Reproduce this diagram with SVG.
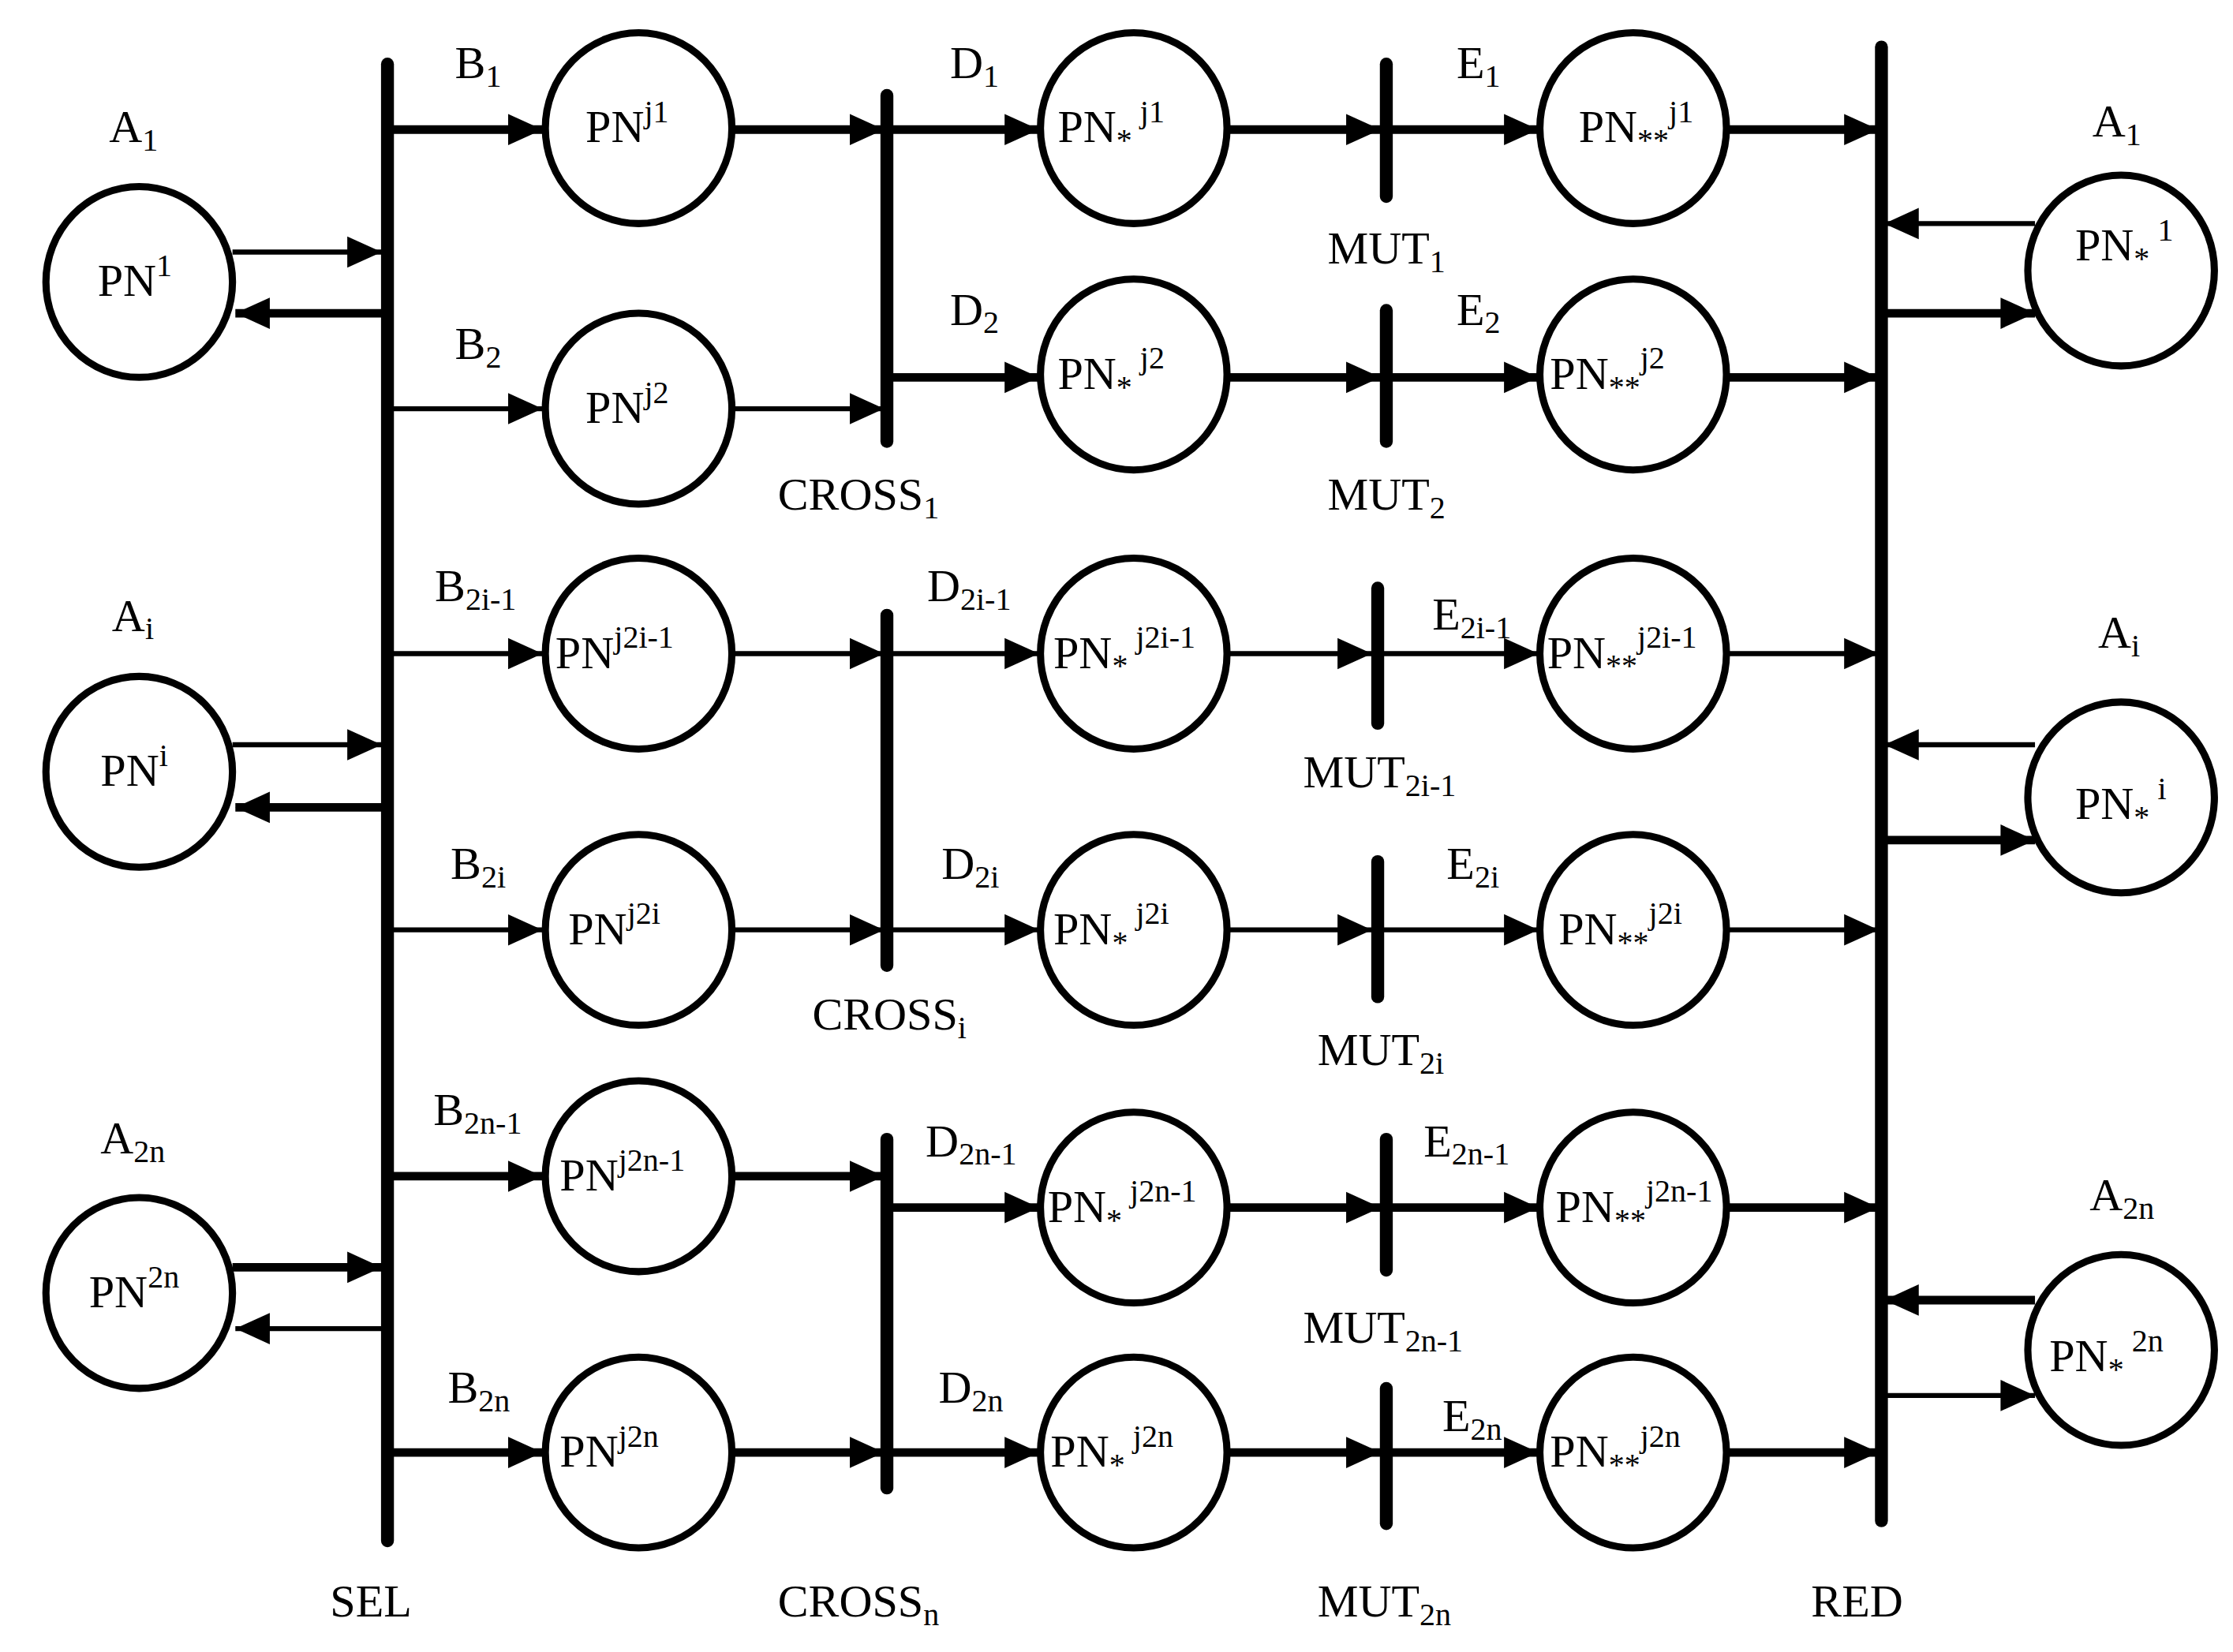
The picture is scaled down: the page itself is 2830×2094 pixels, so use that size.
<svg xmlns="http://www.w3.org/2000/svg" width="2830" height="2094" viewBox="0 0 2830 2094">
<style>
.c{fill:none;stroke:#000;stroke-width:5}
.bar{stroke:#000;stroke-width:9;stroke-linecap:round}
.t{stroke:#000;stroke-width:3.5;fill:none}
.k{stroke:#000;stroke-width:6;fill:none}
text{font-family:"Liberation Serif","Times New Roman",serif;font-size:32px;fill:#000}
.s{font-size:22px}
</style>
<defs>
<marker id="ah" markerUnits="userSpaceOnUse" markerWidth="26" markerHeight="26" viewBox="0 0 26 26" refX="24" refY="13" orient="auto"><path d="M0,2 L24,13 L0,24 Z" fill="#000"/></marker>
</defs>
<rect width="2830" height="2094" fill="#fff"/>
<g transform="scale(1.8188,1.805)">
<g id="bars">
<line class="bar" x1="270" y1="45" x2="270" y2="1082"/>
<line class="bar" x1="618" y1="67" x2="618" y2="310"/>
<line class="bar" x1="618" y1="432" x2="618" y2="678"/>
<line class="bar" x1="618" y1="800" x2="618" y2="1045"/>
<line class="bar" x1="966" y1="45" x2="966" y2="138"/>
<line class="bar" x1="966" y1="218" x2="966" y2="310"/>
<line class="bar" x1="960" y1="413" x2="960" y2="508"/>
<line class="bar" x1="960" y1="605" x2="960" y2="700"/>
<line class="bar" x1="966" y1="800" x2="966" y2="892"/>
<line class="bar" x1="966" y1="975" x2="966" y2="1070"/>
<line class="bar" x1="1311" y1="33" x2="1311" y2="1068"/>
</g>
<g id="connectors">
<line class="t" x1="162" y1="177" x2="266" y2="177" marker-end="url(#ah)"/>
<line class="k" x1="266" y1="220" x2="164" y2="220" marker-end="url(#ah)"/>
<line class="t" x1="162" y1="523" x2="266" y2="523" marker-end="url(#ah)"/>
<line class="k" x1="266" y1="567" x2="164" y2="567" marker-end="url(#ah)"/>
<line class="k" x1="162" y1="890" x2="266" y2="890" marker-end="url(#ah)"/>
<line class="t" x1="266" y1="933" x2="164" y2="933" marker-end="url(#ah)"/>
<line class="k" x1="272" y1="91" x2="378" y2="91" marker-end="url(#ah)"/>
<line class="t" x1="272" y1="287" x2="378" y2="287" marker-end="url(#ah)"/>
<line class="t" x1="272" y1="459" x2="378" y2="459" marker-end="url(#ah)"/>
<line class="t" x1="272" y1="653" x2="378" y2="653" marker-end="url(#ah)"/>
<line class="k" x1="272" y1="826" x2="378" y2="826" marker-end="url(#ah)"/>
<line class="k" x1="272" y1="1020" x2="378" y2="1020" marker-end="url(#ah)"/>
<line class="k" x1="510" y1="91" x2="616" y2="91" marker-end="url(#ah)"/>
<line class="t" x1="510" y1="287" x2="616" y2="287" marker-end="url(#ah)"/>
<line class="t" x1="510" y1="459" x2="616" y2="459" marker-end="url(#ah)"/>
<line class="t" x1="510" y1="653" x2="616" y2="653" marker-end="url(#ah)"/>
<line class="k" x1="510" y1="826" x2="616" y2="826" marker-end="url(#ah)"/>
<line class="k" x1="510" y1="1020" x2="616" y2="1020" marker-end="url(#ah)"/>
<line class="k" x1="620" y1="91" x2="724" y2="91" marker-end="url(#ah)"/>
<line class="k" x1="620" y1="265" x2="724" y2="265" marker-end="url(#ah)"/>
<line class="t" x1="620" y1="459" x2="724" y2="459" marker-end="url(#ah)"/>
<line class="t" x1="620" y1="653" x2="724" y2="653" marker-end="url(#ah)"/>
<line class="k" x1="620" y1="848" x2="724" y2="848" marker-end="url(#ah)"/>
<line class="k" x1="620" y1="1020" x2="724" y2="1020" marker-end="url(#ah)"/>
<line class="k" x1="856" y1="91" x2="962" y2="91" marker-end="url(#ah)"/>
<line class="k" x1="856" y1="265" x2="962" y2="265" marker-end="url(#ah)"/>
<line class="t" x1="856" y1="459" x2="956" y2="459" marker-end="url(#ah)"/>
<line class="t" x1="856" y1="653" x2="956" y2="653" marker-end="url(#ah)"/>
<line class="k" x1="856" y1="848" x2="962" y2="848" marker-end="url(#ah)"/>
<line class="k" x1="856" y1="1020" x2="962" y2="1020" marker-end="url(#ah)"/>
<line class="k" x1="968" y1="91" x2="1072" y2="91" marker-end="url(#ah)"/>
<line class="k" x1="968" y1="265" x2="1072" y2="265" marker-end="url(#ah)"/>
<line class="t" x1="962" y1="459" x2="1072" y2="459" marker-end="url(#ah)"/>
<line class="t" x1="962" y1="653" x2="1072" y2="653" marker-end="url(#ah)"/>
<line class="k" x1="968" y1="848" x2="1072" y2="848" marker-end="url(#ah)"/>
<line class="k" x1="968" y1="1020" x2="1072" y2="1020" marker-end="url(#ah)"/>
<line class="k" x1="1204" y1="91" x2="1309" y2="91" marker-end="url(#ah)"/>
<line class="k" x1="1204" y1="265" x2="1309" y2="265" marker-end="url(#ah)"/>
<line class="t" x1="1204" y1="459" x2="1309" y2="459" marker-end="url(#ah)"/>
<line class="t" x1="1204" y1="653" x2="1309" y2="653" marker-end="url(#ah)"/>
<line class="k" x1="1204" y1="848" x2="1309" y2="848" marker-end="url(#ah)"/>
<line class="k" x1="1204" y1="1020" x2="1309" y2="1020" marker-end="url(#ah)"/>
<line class="t" x1="1418" y1="157" x2="1313" y2="157" marker-end="url(#ah)"/>
<line class="k" x1="1313" y1="220" x2="1418" y2="220" marker-end="url(#ah)"/>
<line class="t" x1="1418" y1="523" x2="1313" y2="523" marker-end="url(#ah)"/>
<line class="k" x1="1313" y1="590" x2="1418" y2="590" marker-end="url(#ah)"/>
<line class="k" x1="1418" y1="913" x2="1313" y2="913" marker-end="url(#ah)"/>
<line class="t" x1="1313" y1="980" x2="1418" y2="980" marker-end="url(#ah)"/>
</g>
<g id="pn1"><ellipse class="c" cx="97" cy="198" rx="65" ry="67"/><text x="68" y="208">PN<tspan class="s" dy="-14">1</tspan></text></g>
<g id="pni"><ellipse class="c" cx="97" cy="542" rx="65" ry="67"/><text x="70" y="552">PN<tspan class="s" dy="-14">i</tspan></text></g>
<g id="pn2n"><ellipse class="c" cx="97" cy="908" rx="65" ry="67"/><text x="62" y="918">PN<tspan class="s" dy="-14">2n</tspan></text></g>
<g id="pnj1"><ellipse class="c" cx="445" cy="90" rx="65" ry="67"/><text x="408" y="100">PN<tspan class="s" dy="-14">j1</tspan></text></g>
<g id="pnj2"><ellipse class="c" cx="445" cy="287" rx="65" ry="67"/><text x="408" y="297">PN<tspan class="s" dy="-14">j2</tspan></text></g>
<g id="pnj2i1"><ellipse class="c" cx="445" cy="459" rx="65" ry="67"/><text x="387" y="469">PN<tspan class="s" dy="-14">j2i-1</tspan></text></g>
<g id="pnj2i"><ellipse class="c" cx="445" cy="653" rx="65" ry="67"/><text x="396" y="663">PN<tspan class="s" dy="-14">j2i</tspan></text></g>
<g id="pnj2n1"><ellipse class="c" cx="445" cy="826" rx="65" ry="67"/><text x="390" y="836">PN<tspan class="s" dy="-14">j2n-1</tspan></text></g>
<g id="pnj2n"><ellipse class="c" cx="445" cy="1020" rx="65" ry="67"/><text x="390" y="1030">PN<tspan class="s" dy="-14">j2n</tspan></text></g>
<g id="pns1"><ellipse class="c" cx="790" cy="90" rx="65" ry="67"/><text x="737" y="100">PN<tspan class="s" dy="6">*</tspan><tspan class="s" dy="-20"> j1</tspan></text></g>
<g id="pns2"><ellipse class="c" cx="790" cy="263" rx="65" ry="67"/><text x="737" y="273">PN<tspan class="s" dy="6">*</tspan><tspan class="s" dy="-20"> j2</tspan></text></g>
<g id="pns3"><ellipse class="c" cx="790" cy="459" rx="65" ry="67"/><text x="734" y="469">PN<tspan class="s" dy="6">*</tspan><tspan class="s" dy="-20"> j2i-1</tspan></text></g>
<g id="pns4"><ellipse class="c" cx="790" cy="653" rx="65" ry="67"/><text x="734" y="663">PN<tspan class="s" dy="6">*</tspan><tspan class="s" dy="-20"> j2i</tspan></text></g>
<g id="pns5"><ellipse class="c" cx="790" cy="848" rx="65" ry="67"/><text x="730" y="858">PN<tspan class="s" dy="6">*</tspan><tspan class="s" dy="-20"> j2n-1</tspan></text></g>
<g id="pns6"><ellipse class="c" cx="790" cy="1020" rx="65" ry="67"/><text x="732" y="1030">PN<tspan class="s" dy="6">*</tspan><tspan class="s" dy="-20"> j2n</tspan></text></g>
<g id="pnss1"><ellipse class="c" cx="1138" cy="90" rx="65" ry="67"/><text x="1100" y="100">PN<tspan class="s" dy="6">**</tspan><tspan class="s" dy="-20">j1</tspan></text></g>
<g id="pnss2"><ellipse class="c" cx="1138" cy="263" rx="65" ry="67"/><text x="1080" y="273">PN<tspan class="s" dy="6">**</tspan><tspan class="s" dy="-20">j2</tspan></text></g>
<g id="pnss3"><ellipse class="c" cx="1138" cy="459" rx="65" ry="67"/><text x="1078" y="469">PN<tspan class="s" dy="6">**</tspan><tspan class="s" dy="-20">j2i-1</tspan></text></g>
<g id="pnss4"><ellipse class="c" cx="1138" cy="653" rx="65" ry="67"/><text x="1086" y="663">PN<tspan class="s" dy="6">**</tspan><tspan class="s" dy="-20">j2i</tspan></text></g>
<g id="pnss5"><ellipse class="c" cx="1138" cy="848" rx="65" ry="67"/><text x="1084" y="858">PN<tspan class="s" dy="6">**</tspan><tspan class="s" dy="-20">j2n-1</tspan></text></g>
<g id="pnss6"><ellipse class="c" cx="1138" cy="1020" rx="65" ry="67"/><text x="1080" y="1030">PN<tspan class="s" dy="6">**</tspan><tspan class="s" dy="-20">j2n</tspan></text></g>
<g id="pnr1"><ellipse class="c" cx="1478" cy="190" rx="65" ry="67"/><text x="1446" y="183">PN<tspan class="s" dy="6">*</tspan><tspan class="s" dy="-20"> 1</tspan></text></g>
<g id="pnri"><ellipse class="c" cx="1478" cy="560" rx="65" ry="67"/><text x="1446" y="575">PN<tspan class="s" dy="6">*</tspan><tspan class="s" dy="-20"> i</tspan></text></g>
<g id="pnr2n"><ellipse class="c" cx="1478" cy="948" rx="65" ry="67"/><text x="1428" y="963">PN<tspan class="s" dy="6">*</tspan><tspan class="s" dy="-20"> 2n</tspan></text></g>
<g id="labels">
<text x="76" y="100">A<tspan class="s" dy="6">1</tspan></text>
<text x="78" y="443">A<tspan class="s" dy="6">i</tspan></text>
<text x="70" y="810">A<tspan class="s" dy="6">2n</tspan></text>
<text x="1458" y="96">A<tspan class="s" dy="6">1</tspan></text>
<text x="1462" y="455">A<tspan class="s" dy="6">i</tspan></text>
<text x="1456" y="850">A<tspan class="s" dy="6">2n</tspan></text>
<text x="317" y="55">B<tspan class="s" dy="6">1</tspan></text>
<text x="317" y="252">B<tspan class="s" dy="6">2</tspan></text>
<text x="303" y="422">B<tspan class="s" dy="6">2i-1</tspan></text>
<text x="314" y="617">B<tspan class="s" dy="6">2i</tspan></text>
<text x="302" y="790">B<tspan class="s" dy="6">2n-1</tspan></text>
<text x="312" y="985">B<tspan class="s" dy="6">2n</tspan></text>
<text x="662" y="55">D<tspan class="s" dy="6">1</tspan></text>
<text x="662" y="228">D<tspan class="s" dy="6">2</tspan></text>
<text x="646" y="422">D<tspan class="s" dy="6">2i-1</tspan></text>
<text x="656" y="617">D<tspan class="s" dy="6">2i</tspan></text>
<text x="645" y="812">D<tspan class="s" dy="6">2n-1</tspan></text>
<text x="654" y="985">D<tspan class="s" dy="6">2n</tspan></text>
<text x="1015" y="55">E<tspan class="s" dy="6">1</tspan></text>
<text x="1015" y="228">E<tspan class="s" dy="6">2</tspan></text>
<text x="998" y="442">E<tspan class="s" dy="6">2i-1</tspan></text>
<text x="1008" y="617">E<tspan class="s" dy="6">2i</tspan></text>
<text x="992" y="812">E<tspan class="s" dy="6">2n-1</tspan></text>
<text x="1005" y="1005">E<tspan class="s" dy="6">2n</tspan></text>
<text x="542" y="358">CROSS<tspan class="s" dy="6">1</tspan></text>
<text x="566" y="723">CROSS<tspan class="s" dy="6">i</tspan></text>
<text x="542" y="1135">CROSS<tspan class="s" dy="6">n</tspan></text>
<text x="925" y="185">MUT<tspan class="s" dy="6">1</tspan></text>
<text x="925" y="358">MUT<tspan class="s" dy="6">2</tspan></text>
<text x="908" y="553">MUT<tspan class="s" dy="6">2i-1</tspan></text>
<text x="918" y="748">MUT<tspan class="s" dy="6">2i</tspan></text>
<text x="908" y="943">MUT<tspan class="s" dy="6">2n-1</tspan></text>
<text x="918" y="1135">MUT<tspan class="s" dy="6">2n</tspan></text>
<text x="230" y="1135">SEL</text>
<text x="1262" y="1135">RED</text>
</g>
</g>
</svg>
